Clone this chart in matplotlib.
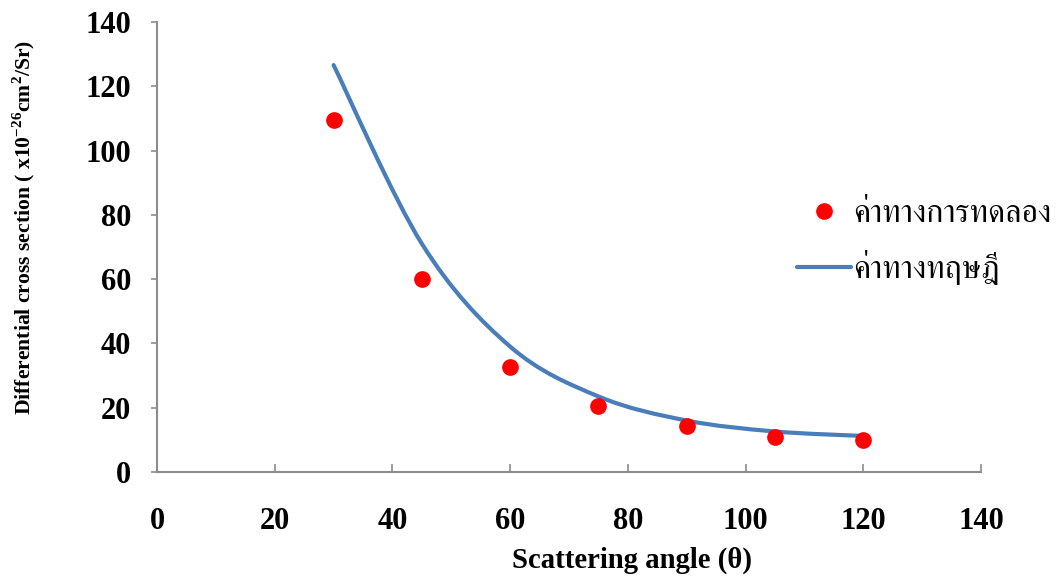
import matplotlib
matplotlib.use("Agg")
import matplotlib.pyplot as plt
from matplotlib import font_manager, ft2font
from matplotlib.path import Path
from matplotlib.patches import PathPatch
from matplotlib.lines import Line2D

# data
angle = [30, 45, 60, 75, 90, 105, 120]
measured = [109.5, 60.0, 32.8, 20.5, 14.2, 11.0, 10.0]
theory = [126.6, 71.0, 39.0, 23.5, 16.0, 12.6, 11.2]

x_ticks = [0, 20, 40, 60, 80, 100, 120, 140]
y_ticks = [0, 20, 40, 60, 80, 100, 120, 140]

label_measured = "ค่าทางการทดลอง"
label_theory = "ค่าทางทฤษฎี"


def find_thai_font():
    # pick an installed font with Thai glyphs, serif ones first
    found = []
    for f in font_manager.fontManager.ttflist:
        try:
            ft = ft2font.FT2Font(f.fname)
            if ft.get_char_index(ord("ค")) and ft.get_char_index(ord("ฎ")):
                found.append(f.name)
        except Exception:
            pass
    found = sorted(set(found), key=lambda n: ("Serif" not in n, n))
    return found[0] if found else "DejaVu Sans"


def smooth_path(xs, ys):
    # excel style smoothed line: cubic bezier through every point
    pts = list(zip(xs, ys))
    n = len(pts)
    verts = [pts[0]]
    codes = [Path.MOVETO]
    for i in range(n - 1):
        p0 = pts[max(i - 1, 0)]
        p1 = pts[i]
        p2 = pts[i + 1]
        p3 = pts[min(i + 2, n - 1)]
        c1 = (p1[0] + (p2[0] - p0[0]) / 6, p1[1] + (p2[1] - p0[1]) / 6)
        c2 = (p2[0] - (p3[0] - p1[0]) / 6, p2[1] - (p3[1] - p1[1]) / 6)
        verts += [c1, c2, p2]
        codes += [Path.CURVE4] * 3
    return Path(verts, codes)


thai_font = find_thai_font()
serif = "Liberation Serif"
plt.rcParams["mathtext.fontset"] = "custom"
plt.rcParams["mathtext.rm"] = "Liberation Serif:bold"
plt.rcParams["mathtext.bf"] = "Liberation Serif:bold"

line_color = "#4a7ebb"
dot_color = "#ff0000"
axis_color = "#8c8c8c"

fig = plt.figure(figsize=(10.56, 5.76), dpi=100)
ax = fig.add_axes([0.1487, 0.1806, 0.929 - 0.1487, 0.9618 - 0.1806])

ax.add_patch(PathPatch(smooth_path(angle, theory), facecolor="none",
                       edgecolor=line_color, lw=3, capstyle="round", zorder=2))
ax.plot(angle, measured, "o", color=dot_color, ms=11, zorder=3)

ax.set_xlim(0, 140)
ax.set_ylim(0, 140)
ax.set_xticks(x_ticks)
ax.set_yticks(y_ticks)

for s in ["top", "right"]:
    ax.spines[s].set_visible(False)
for s in ["left", "bottom"]:
    ax.spines[s].set_color(axis_color)
    ax.spines[s].set_linewidth(1.5)

ax.tick_params(axis="x", direction="in", length=6, width=1.2, color=axis_color, pad=25)
ax.tick_params(axis="y", direction="out", length=4, width=1.2, color=axis_color, pad=14.5)
for lab in ax.get_xticklabels() + ax.get_yticklabels():
    lab.set_fontfamily(serif)
    lab.set_fontweight("bold")
    lab.set_fontsize(22)

ax.set_xlabel("Scattering angle (θ)", fontfamily=serif, fontweight="bold", fontsize=20.7)
ax.xaxis.set_label_coords(0.576, -0.167)
ax.set_ylabel("Differential cross section ( x10$^{-26}$cm$^{2}$/Sr)",
              fontfamily=serif, fontweight="bold", fontsize=15.6)
ax.yaxis.set_label_coords(-0.1456, 0.544)

handles = [
    Line2D([], [], ls="none", marker="o", color=dot_color, ms=11),
    Line2D([], [], color=line_color, lw=3, solid_capstyle="round"),
]
fig.legend(handles, [label_measured, label_theory], loc="upper left",
           bbox_to_anchor=(0.7547, 0.654), frameon=False,
           prop={"family": [thai_font, "DejaVu Sans"], "size": 23},
           handlelength=1.7, handletextpad=0.07, labelspacing=0.66,
           borderpad=0, borderaxespad=0)

fig.savefig("out.png", dpi=100)
